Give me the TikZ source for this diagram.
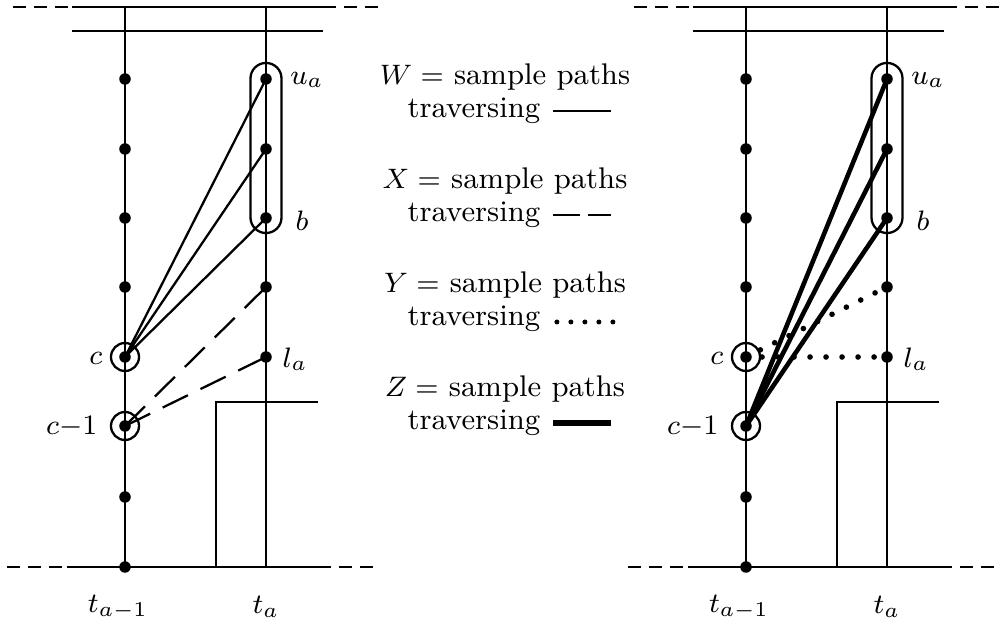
\documentclass[tikz,border=0pt]{standalone}
\usetikzlibrary{calc}
\begin{document}
\begin{tikzpicture}[x=0.01cm,y=-0.01cm,line width=0.65pt]
\tikzset{
  dot/.style={circle,fill=black,inner sep=0pt,minimum size=0.115cm},
  ring/.style={circle,draw,line width=0.65pt,minimum size=0.28cm,inner sep=0pt},
  capsule/.style={draw,line width=0.65pt,rounded corners=0.155cm,minimum width=0.31cm,minimum height=1.7cm,inner sep=0pt},
  wpath/.style={line width=0.65pt},
  xpath/.style={line width=0.65pt,dash pattern=on 0.28cm off 0.14cm},
  ypath/.style={line width=1.6pt,line cap=round,dash pattern=on 0pt off 0.16cm},
  zpath/.style={line width=1.3pt},
  border/.style={line width=0.65pt,dash pattern=on 0.13cm off 0.08cm},
  lbl/.style={font=\fontsize{8.5}{10}\selectfont,inner sep=1pt},
}
\useasboundingbox (0,0) rectangle (1000,625);

\foreach \p/\dx in {L/0,R/621}{
  % top and bottom boundary lines
  \draw[border] (13+\dx,7) -- (72+\dx,7);
  \draw (72+\dx,7) -- (323+\dx,7);
  \draw[border] (323+\dx,7) -- (380+\dx,7);
  \draw (72+\dx,31) -- (323+\dx,31);
  \draw[border] (7+\dx,567) -- (67+\dx,567);
  \draw (67+\dx,567) -- (318+\dx,567);
  \draw[border] (318+\dx,567) -- (375+\dx,567);
  % step
  \draw (216+\dx,567) -- (216+\dx,402) -- (318+\dx,402);
  % coordinates of the grid points
  \coordinate (\p-tl) at (125+\dx,7);
  \coordinate (\p-tr) at (266+\dx,7);
  \coordinate (\p-br) at (266+\dx,567);
  \foreach \i/\y in {1/79,2/149,3/218,4/287,5/357,6/426,7/497,8/567}{
    \coordinate (\p-l\i) at (125+\dx,\y);
  }
  \foreach \i/\y in {1/79,2/149,3/218,4/287,5/357}{
    \coordinate (\p-r\i) at (266+\dx,\y);
  }
  \draw (\p-tl) -- (\p-l8);
  \draw (\p-tr) -- (\p-br);
  % capsule and rings
  \node[capsule] (\p-cap) at (266+\dx,148) {};
  \node[ring] (\p-ringc) at (\p-l5) {};
  \node[ring] (\p-ringd) at (\p-l6) {};
  % labels
  \node[lbl] (\p-ua) at (307+\dx,80) {$u_a$};
  \node[lbl] (\p-b) at (302+\dx,221) {$b$};
  \node[lbl,anchor=east] (\p-c) at (107+\dx,358) {$c$};
  \node[lbl,anchor=east] (\p-cm) at (102+\dx,427) {$c{-}1$};
  \node[lbl,anchor=west] (\p-la) at (278+\dx,359) {$l_a$};
  \node[lbl] (\p-t1) at (118+\dx,607) {$t_{a-1}$};
  \node[lbl] (\p-t2) at (266+\dx,607) {$t_a$};
}

% left panel paths
\draw[wpath] (L-l5) -- (L-r1);
\draw[wpath] (L-l5) -- (L-r2);
\draw[wpath] (L-l5) -- (L-r3);
\draw[xpath] (L-l6) -- (L-r4);
\draw[xpath] (L-l6) -- (L-r5);

% right panel paths
\draw[zpath] (R-l6) -- (R-r1);
\draw[zpath] (R-l6) -- (R-r2);
\draw[zpath] (R-l6) -- (R-r3);
\draw[ypath] (R-l5) -- (R-r4);
\draw[ypath] (R-l5) -- (R-r5);

% dots
\foreach \p in {L,R}{
  \foreach \i in {1,...,8}{ \node[dot] (\p-dl\i) at (\p-l\i) {}; }
  \foreach \i in {1,...,5}{ \node[dot] (\p-dr\i) at (\p-r\i) {}; }
}

% legend
\node[lbl,anchor=base] (w1) at (505,85) {$W=$ sample paths};
\node[lbl,anchor=base west] (w2) at (403,118) {traversing};
\draw[wpath] ($(w2.base east)+(8,-7)$) -- ++(58,0);

\node[lbl,anchor=base] (x1) at (505,189) {$X=$ sample paths};
\node[lbl,anchor=base west] (x2) at (403,222) {traversing};
\draw[wpath] ($(x2.base east)+(8,-7)$) -- ++(27,0);
\draw[wpath] ($(x2.base east)+(43,-7)$) -- ++(23,0);

\node[lbl,anchor=base] (y1) at (505,293) {$Y=$ sample paths};
\node[lbl,anchor=base west] (y2) at (403,326) {traversing};
\foreach \k in {0,...,4}{
  \fill ($(y2.base east)+(12+14*\k,-4)$) circle (0.025cm);
}

\node[lbl,anchor=base] (z1) at (505,397) {$Z=$ sample paths};
\node[lbl,anchor=base west] (z2) at (403,430) {traversing};
\draw[line width=1.5pt] ($(z2.base east)+(8,-7)$) -- ++(58,0);
\end{tikzpicture}
\end{document}
